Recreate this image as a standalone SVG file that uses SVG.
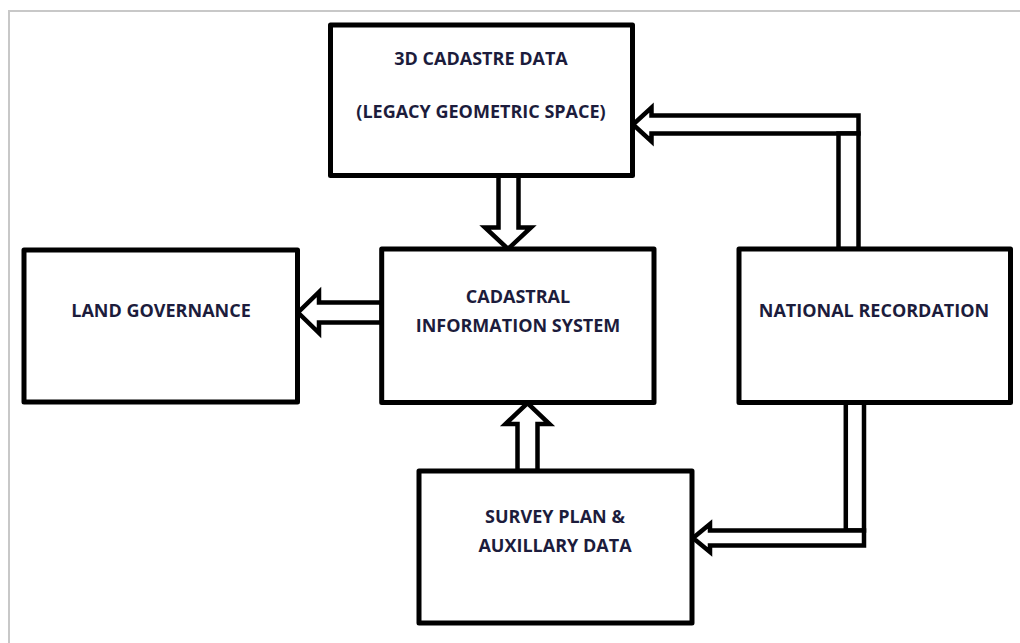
<svg xmlns="http://www.w3.org/2000/svg" width="1020" height="643" viewBox="0 0 1020 643">
<style>
.box{fill:#fff;stroke:#000;stroke-width:5;stroke-linejoin:round}
.arr{fill:#fff;stroke:#000;stroke-width:4.5;stroke-linejoin:miter}
.lbl{font-family:"Open Sans","Liberation Sans",sans-serif;font-weight:700;font-size:18px;fill:#1c1c3c;text-anchor:middle}
</style>
<rect width="1020" height="643" fill="#fff"/>
<polyline points="9,643 9,11 1020,11" fill="none" stroke="#c8c8c8" stroke-width="2"/>
<g id="connectors">
<polygon class="arr" points="498.5,175.5 518.5,175.5 518.5,227.5 531,227.5 508,249 485,227.5 498.5,227.5"/>
<polygon class="arr" points="517.5,471 537.5,471 537.5,424 549.5,424 527.5,403 505.5,424 517.5,424"/>
<polygon class="arr" points="381.7,302.5 319,302.5 319,292 298,312.5 319,333 319,322.5 381.7,322.5"/>
<polygon class="arr" points="858.5,115.5 651.5,115.5 651.5,107.5 633,124.5 651.5,141.5 651.5,133.5 858.5,133.5"/>
<rect class="arr" x="838.5" y="133.5" width="20" height="115.5"/>
<rect class="arr" x="845.8" y="402.5" width="18.2" height="128"/>
<polygon class="arr" points="864,530.5 710,530.5 710,524 693,538 710,552 710,545.5 864,545.5"/>
</g>
<g id="cadastre3d">
<rect class="box" x="330.5" y="25" width="302" height="150.5"/>
<text class="lbl" x="481" y="65">3D CADASTRE DATA</text>
<text class="lbl" x="481" y="118">(LEGACY GEOMETRIC SPACE)</text>
</g>
<g id="landgov">
<rect class="box" x="24" y="250" width="273.5" height="152"/>
<text class="lbl" x="161" y="317">LAND GOVERNANCE</text>
</g>
<g id="cis">
<rect class="box" x="381.7" y="249" width="272.3" height="153.5"/>
<text class="lbl" x="518" y="303">CADASTRAL</text>
<text class="lbl" x="518" y="332">INFORMATION SYSTEM</text>
</g>
<g id="national">
<rect class="box" x="739" y="249" width="271.5" height="153.5"/>
<text class="lbl" x="874" y="317">NATIONAL RECORDATION</text>
</g>
<g id="survey">
<rect class="box" x="419" y="471" width="273" height="152"/>
<text class="lbl" x="555" y="523">SURVEY PLAN &amp;</text>
<text class="lbl" x="555" y="552">AUXILLARY DATA</text>
</g>
</svg>
